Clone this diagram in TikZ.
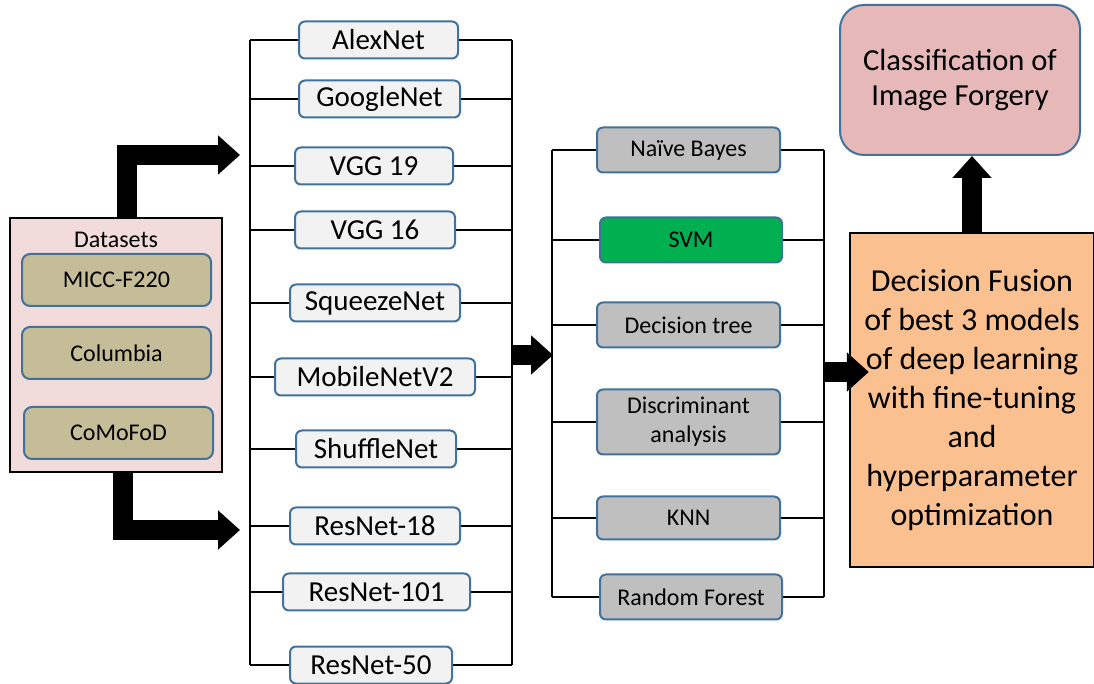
\documentclass[tikz,border=0pt]{standalone}
\usepackage{fontspec}
\setmainfont{Carlito}
\usetikzlibrary{arrows.meta}
\definecolor{boxblue}{HTML}{41719C}
\definecolor{dspink}{HTML}{F2DCDB}
\definecolor{dskhaki}{HTML}{C4BD97}
\definecolor{cnngray}{HTML}{F2F2F2}
\definecolor{clfgray}{HTML}{BFBFBF}
\definecolor{svmgreen}{HTML}{00B050}
\definecolor{fusorange}{HTML}{FAC090}
\definecolor{clsrose}{HTML}{E6B9B8}
\tikzset{
  dsitem/.style={draw=boxblue, fill=dskhaki, line width=1pt, rounded corners=4pt,
    minimum width=94.5pt, minimum height=26pt, font=\fontsize{12}{14}\selectfont},
  cnn/.style={draw=boxblue, fill=cnngray, line width=1pt, rounded corners=3pt,
    minimum height=18.5pt, inner sep=0pt, font=\fontsize{14.5}{16}\selectfont},
  clf/.style={draw=boxblue, fill=clfgray, line width=1pt, rounded corners=3pt,
    minimum width=91.5pt, minimum height=22.5pt, inner sep=0pt, align=center,
    font=\fontsize{12}{14.5}\selectfont},
  bus/.style={line width=1.1pt},
  bigarrow/.style={line width=10pt, -{Triangle[width=19pt,length=11pt]}}
}
\begin{document}
\begin{tikzpicture}[x=0.5pt,y=-0.5pt]
  \useasboundingbox (0,0) rectangle (1094,684);
  % datasets
  \node[draw, fill=dspink, line width=1.2pt, minimum width=106pt, minimum height=127pt] (ds) at (116,345) {};
  \node[font=\fontsize{12}{14}\selectfont] (dslabel) at (116,240) {Datasets};
  \node[dsitem] (micc) at (116.5,280) {MICC-F220};
  \node[dsitem] (colu) at (116.5,353) {Columbia};
  \node[dsitem] (como) at (118.5,433) {CoMoFoD};
  % pretrained networks
  \node[cnn, minimum width=79.5pt] (alex) at (378.5,40) {AlexNet};
  \node[cnn, minimum width=80.5pt] (google) at (379.5,99) {GoogleNet};
  \node[cnn, minimum width=79pt] (vggA) at (374,166) {VGG 19};
  \node[cnn, minimum width=80pt] (vggB) at (375,230) {VGG 16};
  \node[cnn, minimum width=85pt] (squeeze) at (375,303) {SqueezeNet};
  \node[cnn, minimum width=100pt] (mobile) at (375,377) {MobileNetV2};
  \node[cnn, minimum width=80pt] (shuffle) at (376,449) {ShuffleNet};
  \node[cnn, minimum width=85pt] (resA) at (375,526) {ResNet-18};
  \node[cnn, minimum width=93.5pt] (resB) at (376.5,592) {ResNet-101};
  \node[cnn, minimum width=81pt] (resC) at (371,665) {ResNet-50};
  \coordinate (cnnl) at (250,40);
  \coordinate (cnnlb) at (250,665);
  \coordinate (cnnr) at (512,40);
  \coordinate (cnnrb) at (512,665);
  \draw[bus] (cnnl) -- (cnnlb);
  \draw[bus] (cnnr) -- (cnnrb);
  \foreach \n in {alex,google,vggA,vggB,squeeze,mobile,shuffle,resA,resB,resC}{
    \draw[bus] (\n.west) -- (\n.west -| cnnl);
    \draw[bus] (\n.east) -- (\n.east -| cnnr);
  }
  % classifiers
  \node[clf] (nb) at (688.5,150) {Naïve Bayes};
  \node[clf, fill=svmgreen, minimum width=91pt] (svm) at (691,240) {SVM};
  \node[clf] (dt) at (688.5,325) {Decision tree};
  \node[clf, minimum height=32.5pt] (da) at (688.5,422) {Discriminant\\analysis};
  \node[clf, minimum height=21.5pt] (knn) at (688.5,518) {KNN};
  \node[clf, minimum width=91pt] (rf) at (691,597) {Random Forest};
  \coordinate (clfl) at (552,150);
  \coordinate (clflb) at (552,597);
  \coordinate (clfr) at (824,150);
  \coordinate (clfrb) at (824,597);
  \draw[bus] (clfl) -- (clflb);
  \draw[bus] (clfr) -- (clfrb);
  \foreach \n in {nb,svm,dt,da,knn,rf}{
    \draw[bus] (\n.west) -- (\n.west -| clfl);
    \draw[bus] (\n.east) -- (\n.east -| clfr);
  }
  % fusion and result
  \node[draw, fill=fusorange, line width=1.2pt, minimum width=122pt, minimum height=167pt,
    align=center, font=\fontsize{16}{19.5}\selectfont] (fusion) at (972,400)
    {Decision Fusion\\of best 3 models\\of deep learning\\with fine-tuning\\and\\hyperparameter\\optimization};
  \node[draw=boxblue, fill=clsrose, line width=1pt, rounded corners=12pt, minimum width=120pt,
    minimum height=75pt, align=center, font=\fontsize{15.3}{17.5}\selectfont] (cls) at (960,80)
    {Classification of\\Image Forgery};
  % thick arrows
  \coordinate (cnninA) at (240,155);
  \coordinate (cnninB) at (240,530);
  \coordinate (cnnout) at (512,355);
  \coordinate (clfin) at (553,355);
  \coordinate (clfout) at (824,372);
  \draw[bigarrow] ([xshift=5.5pt]ds.north) |- (cnninA);
  \draw[bigarrow] ([xshift=3.5pt]ds.south) |- (cnninB);
  \draw[bigarrow] (cnnout) -- (clfin);
  \draw[bigarrow] (clfout) -- ([xshift=10pt]fusion.west |- clfout);
  \draw[bigarrow] (fusion.north) -- (fusion.north |- cls.south);
\end{tikzpicture}
\end{document}
